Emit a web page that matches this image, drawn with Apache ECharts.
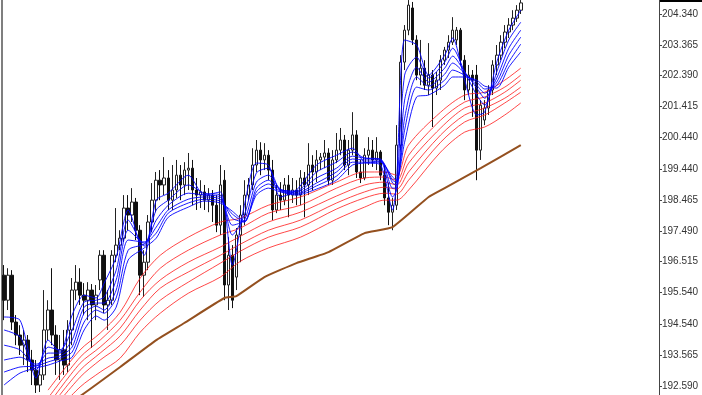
<!DOCTYPE html>
<html>
<head>
<meta charset="utf-8">
<script src="https://cdn.jsdelivr.net/npm/echarts@6/dist/echarts.min.js"></script>
<style>
html,body{margin:0;padding:0;background:#fff;}
#chart{width:702px;height:395px;}
</style>
</head>
<body>
<div id="chart"></div>
<script>
// ---- Data ----
const slotCount = 164; // candle slots across the plot (right part is empty chart shift)
const categories = Array.from({length: slotCount}, (_, i) => String(i + 1));

const opens = [196.09,195.30,196.09,194.61,194.20,193.88,194.04,193.41,193.09,192.62,
192.94,194.36,194.99,194.20,193.41,193.73,193.25,194.36,195.62,195.87,
195.46,195.30,195.62,195.15,195.94,196.72,195.15,195.30,196.72,197.04,
197.26,198.21,197.99,198.40,197.51,196.09,196.50,197.77,198.46,199.09,
198.94,199.16,198.46,198.78,199.25,198.94,199.41,199.47,198.78,198.62,
198.72,198.46,198.62,198.30,197.67,199.09,195.78,196.72,196.03,197.36,
197.99,198.62,198.94,199.57,200.04,199.73,199.88,199.41,198.15,198.62,
198.46,198.94,198.62,198.78,198.62,199.16,198.94,199.57,199.35,199.73,
199.82,199.95,199.09,199.73,200.04,200.36,199.57,200.04,200.52,199.35,
199.16,199.88,200.04,199.73,199.98,199.25,198.53,198.08,198.30,200.20,
202.82,203.83,204.53,203.52,202.41,202.63,202.09,202.41,202.00,202.25,
202.88,203.20,203.45,203.52,203.83,202.88,201.94,202.41,202.41,200.04,
200.99,201.37,201.94,202.73,203.04,203.45,203.77,203.99,204.21,204.46];

const closes = [195.30,196.09,194.61,194.20,193.88,194.04,193.41,193.09,192.62,192.94,
194.36,194.99,194.20,193.41,193.73,193.25,194.36,195.62,195.87,195.46,
195.30,195.62,195.15,195.46,196.72,195.15,195.30,196.72,197.04,197.26,
198.21,197.99,198.40,197.51,196.09,196.50,197.77,198.46,199.09,198.94,
199.16,198.46,198.78,199.25,198.94,199.41,199.47,198.78,198.62,198.72,
198.46,198.62,198.30,197.67,198.94,195.78,196.72,195.30,197.36,197.99,
198.62,198.94,199.57,200.04,199.73,199.88,199.41,198.15,198.62,198.46,
198.94,198.62,198.78,198.62,199.16,198.94,199.57,199.35,199.73,199.82,
199.95,199.09,199.73,200.04,200.36,199.57,200.04,200.52,199.35,199.16,
199.88,200.04,199.73,199.98,199.25,198.53,198.08,198.30,200.20,202.82,
203.83,204.62,203.52,202.41,202.63,202.09,202.41,202.00,202.25,202.88,
203.20,203.45,203.83,203.83,202.88,201.94,202.41,202.25,200.04,201.46,
201.37,201.94,202.73,203.04,203.45,203.77,203.99,204.21,204.46,204.69];

const lows = [194.67,194.99,194.36,193.88,193.57,193.25,193.03,192.62,192.37,192.40,
192.78,194.04,193.88,192.94,192.78,192.94,193.03,193.88,195.30,195.15,
194.83,194.67,193.79,194.67,195.62,194.89,194.36,195.15,196.50,196.88,
197.14,197.51,197.77,197.20,195.46,195.40,196.25,197.45,198.08,198.46,
198.62,198.15,198.15,198.53,198.46,198.62,198.78,198.30,198.15,198.21,
198.15,198.08,197.77,197.45,197.36,195.30,194.99,195.05,195.62,196.50,
197.67,198.46,198.78,199.35,199.25,199.41,199.09,197.83,198.05,198.15,
198.30,197.92,198.37,198.30,198.30,197.92,198.62,198.78,199.03,199.41,
199.47,198.94,198.94,199.63,199.88,199.41,199.25,199.88,199.16,199.00,
199.09,199.57,199.51,199.41,199.09,198.30,197.67,197.51,198.15,200.04,
202.57,203.67,203.36,202.25,202.09,201.94,201.78,200.77,201.78,201.94,
202.73,202.95,203.36,203.36,202.73,201.62,201.78,201.09,199.09,199.73,
200.83,201.15,201.78,202.41,202.88,203.26,203.58,203.83,204.09,204.34];

const highs = [196.41,196.31,196.25,194.83,194.51,194.36,194.20,193.73,193.41,193.25,
195.62,195.30,196.31,194.51,194.20,194.36,194.67,196.00,196.41,196.31,
195.84,195.87,195.81,195.78,196.88,196.88,195.62,196.88,198.21,197.51,
198.62,198.62,198.84,198.53,197.67,196.88,197.99,199.00,199.35,199.41,
199.82,199.41,199.57,199.73,199.57,199.66,199.95,199.73,199.16,199.09,
198.94,198.84,198.78,198.62,199.57,199.41,197.29,197.04,197.58,198.30,
199.09,199.16,200.10,200.36,200.29,200.26,200.04,199.73,198.94,199.03,
199.16,199.25,199.16,199.09,199.41,199.35,200.26,199.88,200.04,199.95,
200.36,200.10,200.04,200.58,200.74,200.52,200.36,201.24,200.67,199.73,
200.10,200.45,200.36,200.45,200.04,199.57,199.00,198.53,200.83,203.04,
203.99,204.78,204.72,203.67,203.52,202.88,203.42,202.57,202.51,203.04,
203.30,203.67,204.24,203.93,203.90,203.04,202.73,202.57,202.73,201.62,
201.62,202.09,202.88,203.36,203.67,203.99,204.21,204.46,204.62,204.78];

// Short-term (blue) moving averages, read at these bar indices
const blueIdx = [0,4,8,11,14,17,20,23,25,28,31,35,38,41,46,50,54,57,60,63,66,69,73,78,83,87,90,94,97,98,100,103,106,110,112,115,118,120,123,126,129];
const blueMA1 = [194.77,194.67,192.84,194.04,193.66,194.83,195.46,195.37,195.84,196.66,198.15,196.72,198.46,198.68,199.25,198.62,198.72,196.41,198.30,199.63,199.57,198.56,198.78,199.57,199.88,200.10,199.66,199.57,198.15,199.09,203.52,203.36,202.41,203.04,203.58,202.25,201.15,201.24,202.82,203.83,204.46];
const blueMA2 = [194.36,194.14,193.09,193.82,193.73,194.36,195.24,195.30,195.40,196.25,197.83,197.01,198.15,198.46,198.94,198.68,198.62,197.36,197.99,199.32,199.47,198.78,198.75,199.35,199.66,199.98,199.79,199.73,198.56,198.78,202.41,202.98,202.32,202.82,203.26,202.51,201.78,201.46,202.51,203.52,204.08];
const blueMA3 = [193.88,193.73,193.22,193.63,193.63,194.04,195.08,195.21,195.21,195.94,197.51,197.10,197.83,198.30,198.68,198.62,198.56,197.67,197.83,199.03,199.25,198.81,198.72,199.16,199.47,199.85,199.79,199.76,198.84,198.84,201.62,202.66,202.19,202.63,203.01,202.51,202.00,201.68,202.32,203.26,203.83];
const blueMA4 = [193.41,193.50,193.28,193.47,193.54,193.82,194.89,195.11,194.99,195.62,197.20,197.14,197.61,198.15,198.49,198.56,198.49,197.89,197.77,198.84,199.09,198.78,198.68,199.00,199.35,199.76,199.73,199.73,199.00,198.94,201.05,202.35,202.06,202.44,202.79,202.47,202.09,201.84,202.19,203.04,203.61];
const blueMA5 = [193.03,193.19,193.22,193.35,193.47,193.66,194.61,194.99,194.89,195.37,196.88,197.07,197.42,198.05,198.37,198.49,198.43,198.02,197.77,198.72,198.97,198.75,198.65,198.91,199.22,199.66,199.66,199.69,199.09,199.03,200.67,202.03,201.94,202.25,202.57,202.41,202.19,201.97,202.09,202.82,203.39];
const blueMA6 = [192.62,193.00,193.16,193.25,193.38,193.50,194.36,194.80,194.67,195.08,196.57,196.95,197.26,197.92,198.24,198.43,198.37,198.11,197.80,198.62,198.84,198.72,198.62,198.81,199.09,199.57,199.63,199.66,199.19,199.09,200.29,201.72,201.78,202.09,202.35,202.35,202.25,202.06,202.00,202.66,203.14];

// Long-term (red) moving averages
const redIdx = [11,19,24,29,34,39,46,54,59,66,74,83,90,95,98,101,109,115,120,125,129];
const redMA1 = [192.46,193.73,194.26,194.92,196.00,196.72,197.29,197.77,197.89,198.30,198.56,199.03,199.35,199.35,199.25,200.20,201.24,201.78,201.87,202.25,202.63];
const redMA2 = [192.21,193.50,194.04,194.67,195.56,196.31,196.88,197.36,197.58,198.05,198.30,198.84,199.16,199.19,199.09,199.88,200.99,201.56,201.72,202.03,202.41];
const redMA3 = [191.99,193.31,193.82,194.42,195.30,195.94,196.50,196.98,197.32,197.77,198.08,198.59,198.94,199.03,198.94,199.63,200.74,201.37,201.53,201.87,202.25];
const redMA4 = [191.83,193.09,193.63,194.17,194.99,195.68,196.19,196.72,197.07,197.51,197.83,198.37,198.72,198.87,198.81,199.35,200.52,201.15,201.37,201.68,202.03];
const redMA5 = [191.67,192.87,193.41,193.88,194.67,195.30,195.87,196.47,196.85,197.29,197.61,198.18,198.53,198.68,198.65,199.09,200.29,200.93,201.15,201.53,201.87];
const redMA6 = [191.51,192.56,193.03,193.47,194.29,194.89,195.52,196.03,196.53,196.95,197.29,197.86,198.24,198.46,198.46,198.78,199.98,200.61,200.77,201.15,201.53];

// Slow (brown) moving average
const brownIdx = [15,19,29,38,45,55,58,65,73,81,90,97,106,110,119,129];
const brownMA = [191.99,192.27,193.19,194.04,194.58,195.37,195.43,196.03,196.47,196.82,197.42,197.61,198.56,198.84,199.47,200.20];

// Price scale labels
const priceTicks = [192.590,193.565,194.540,195.540,196.515,197.490,198.465,199.440,200.440,201.415,202.390,203.365,204.340];
const priceMin = 192.306, priceMax = 204.782;

// ---- Build ----
const candleData = opens.map((o, i) => [o, closes[i], lows[i], highs[i]]);
const pairs = (idx, vals) => idx.map((k, j) => [k, vals[j]]);

function maSeries(name, idx, vals, color, width, smooth, opacity) {
  return {
    name, type: 'line', data: pairs(idx, vals), symbol: 'none', smooth,
    clip: true, silent: true, z: 3,
    lineStyle: {color, width, opacity}
  };
}

const blueSets = [blueMA1, blueMA2, blueMA3, blueMA4, blueMA5, blueMA6];
const redSets = [redMA1, redMA2, redMA3, redMA4, redMA5, redMA6];

const series = [{
  name: 'Price', type: 'candlestick', data: candleData, barWidth: 3, z: 2,
  itemStyle: {color: '#ffffff', color0: '#111111', borderColor: '#222222', borderColor0: '#111111', borderWidth: 1}
}];
redSets.forEach((s, k) => series.push(maSeries('Red ' + (k + 1), redIdx, s, '#ff1a1a', 1, 0.3, 0.8)));
blueSets.forEach((s, k) => series.push(maSeries('Blue ' + (k + 1), blueIdx, s, '#0000ff', 1, 0.25, 0.9)));
series.push(maSeries('Brown', brownIdx, brownMA, '#94501f', 2, 0.12, 1));

const chart = echarts.init(document.getElementById('chart'), null, {renderer: 'canvas'});
chart.setOption({
  animation: false,
  backgroundColor: '#ffffff',
  grid: {left: 2, right: 43, top: 0, bottom: 0},
  graphic: [{type: 'rect', right: 0, top: 0, shape: {width: 43, height: 2}, style: {fill: '#000000'}, silent: true}],
  xAxis: {
    type: 'category', data: categories, boundaryGap: true,
    axisLine: {show: false}, axisTick: {show: false}, axisLabel: {show: false}, splitLine: {show: false}
  },
  yAxis: [{
    type: 'value', position: 'right', min: priceMin, max: priceMax, scale: true,
    axisLine: {show: true, lineStyle: {color: '#444444', width: 1}},
    axisTick: {show: true, customValues: priceTicks, length: 3, inside: false, lineStyle: {color: '#444444'}},
    axisLabel: {customValues: priceTicks, formatter: v => v.toFixed(3), fontFamily: 'Liberation Sans', fontSize: 10, color: '#333333', margin: 3},
    splitLine: {show: false}
  }, {
    type: 'value', position: 'left', min: priceMin, max: priceMax, scale: true,
    axisLine: {show: true, lineStyle: {color: '#555555', width: 1.5}},
    axisTick: {show: false}, axisLabel: {show: false}, splitLine: {show: false}
  }],
  series
});
</script>
</body>
</html>
